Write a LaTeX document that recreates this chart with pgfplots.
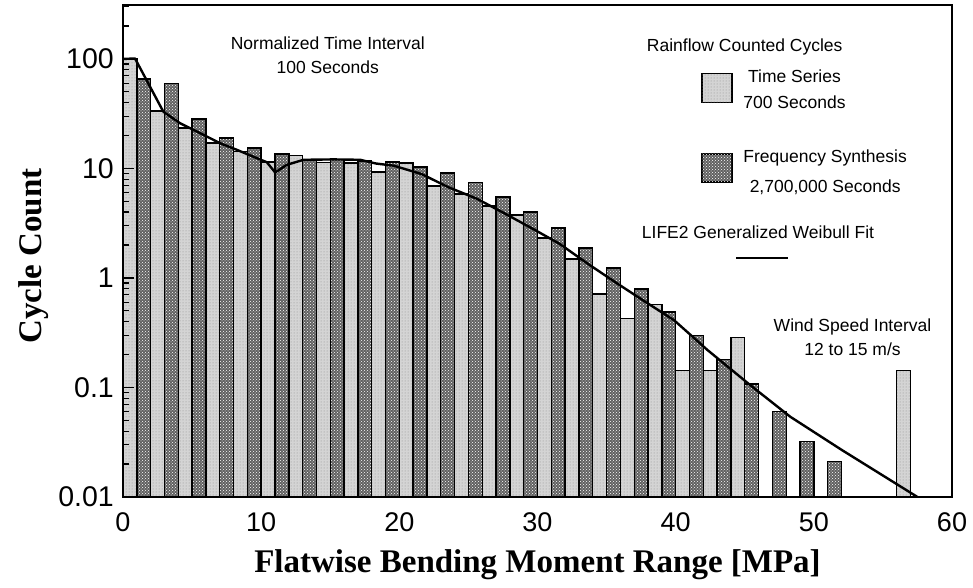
\documentclass[border=0pt]{standalone}
\usepackage{fontspec}
\setmainfont{Liberation Sans}
\newfontfamily\timesfont{Liberation Serif}
\usepackage{pgfplots}
\pgfplotsset{compat=1.18}
\usetikzlibrary{patterns}

\pgfplotstableread{
x y
0.5 100
2.5 33.5
4.5 23.4
6.5 17.1
8.5 14.2
10.5 11.5
12.5 13.1
14.5 11.3
16.5 11.2
18.5 9.3
20.5 11.2
22.5 6.9
24.5 5.85
26.5 4.55
28.5 3.76
30.5 2.32
32.5 1.49
34.5 0.714
36.5 0.429
38.5 0.571
40.5 0.143
42.5 0.143
44.5 0.286
56.5 0.143
}\timeseries

\pgfplotstableread{
x y
1.5 65.6
3.5 60
5.5 28.3
7.5 19.0
9.5 15.4
11.5 13.5
13.5 12.1
15.5 12.0
17.5 11.7
19.5 11.5
21.5 10.3
23.5 9.1
25.5 7.4
27.5 5.5
29.5 4.0
31.5 2.86
33.5 1.88
35.5 1.23
37.5 0.79
39.5 0.49
41.5 0.30
43.5 0.18
45.5 0.108
47.5 0.060
49.5 0.032
51.5 0.021
}\freqsynth

\pgfplotstableread{
x y
0 100
0.87 101
2.92 33
4.13 25.9
5.58 21
7.03 17
8.24 14.8
9.44 12.8
10.41 11.4
11.01 9.2
11.86 10.8
13.07 12.0
15.24 12.1
17.17 12.0
18.3 11.1
19.6 10.6
21.6 8.9
23.6 6.7
25.6 5.3
27.6 3.9
29.6 2.84
31.6 2.05
33.6 1.36
35.6 0.92
37.6 0.63
39.9 0.41
42.3 0.22
45.4 0.105
48.3 0.054
52.0 0.027
57.5 0.01
}\weibull

\tikzset{
  lightbar/.style={draw=black, line width=1.4pt, fill=black!17, postaction={pattern=dots, pattern color=black!45}},
  darkbar/.style={draw=black, line width=1.4pt, fill=black!62, postaction={pattern=crosshatch dots, pattern color=white}},
}

\begin{document}
\begin{tikzpicture}
\useasboundingbox (-123pt,-91pt) rectangle (850pt,497pt);
\begin{axis}[
  scale only axis, width=829pt, height=492pt,
  at={(0,0)}, anchor=south west,
  xmin=0, xmax=60, ymin=0.01, ymax=311,
  ymode=log, log origin=infty,
  axis on top,
  axis line style={line width=2.6pt},
  xtick={0,10,20,30,40,50,60},
  xticklabels={0,10,20,30,40,50,60},
  xtick style={draw=none},
  ytick={0.01,0.1,1,10,100},
  yticklabels={0.01,0.1,1,10,100},
  minor ytick={0.02,0.03,0.04,0.05,0.06,0.07,0.08,0.09,0.2,0.3,0.4,0.5,0.6,0.7,0.8,0.9,2,3,4,5,6,7,8,9,20,30,40,50,60,70,80,90,200,300},
  ytick pos=left, tick align=inside,
  major tick length=11pt, minor tick length=6pt,
  ytick style={line width=1.3pt, black},
  minor y tick style={line width=1.1pt},
  /pgf/number format/assume math mode=true,
  yticklabel style={font=\fontsize{28.5}{32}\selectfont, inner sep=0pt, xshift=-9pt},
  xticklabel style={font=\fontsize{27}{32}\selectfont, inner sep=0pt, yshift=-15pt},
  xlabel={\fontsize{33}{38}\selectfont\timesfont\bfseries Flatwise Bending Moment Range [MPa]},
  ylabel={\fontsize{33}{38}\selectfont\timesfont\bfseries Cycle Count},
  every axis x label/.style={at={(axis description cs:0.5,-0.138)}, anchor=center},
  every axis y label/.style={at={(axis description cs:-0.108,0.49)}, anchor=center, rotate=90},
  clip=true,
]
\addplot[ybar, bar width=1, bar shift=0, lightbar] table[x=x,y=y] {\timeseries};
\addplot[ybar, bar width=1, bar shift=0, darkbar] table[x=x,y=y] {\freqsynth};
\addplot[black, line width=2.4pt, sharp plot, line join=round] table[x=x,y=y] {\weibull};

\node[align=center, font=\fontsize{17.5}{24}\selectfont] at (axis description cs:0.247,0.898) {Normalized Time Interval\\100 Seconds};
\node[font=\fontsize{17.5}{24}\selectfont] at (axis description cs:0.750,0.915) {Rainflow Counted Cycles};
\node[lightbar, minimum width=30pt, minimum height=29pt, inner sep=0pt] at (axis description cs:0.7165,0.831) {};
\node[align=center, font=\fontsize{17.5}{26}\selectfont] at (axis description cs:0.810,0.8285) {Time Series\\700 Seconds};
\node[darkbar, minimum width=30pt, minimum height=28pt, inner sep=0pt] at (axis description cs:0.7165,0.669) {};
\node[align=center, font=\fontsize{17.5}{30}\selectfont] at (axis description cs:0.847,0.6606) {Frequency Synthesis\\2,700,000 Seconds};
\node[font=\fontsize{17.5}{24}\selectfont] at (axis description cs:0.766,0.5386) {LIFE2 Generalized Weibull Fit};
\draw[black, line width=2.6pt] (axis description cs:0.740,0.486) -- (axis description cs:0.802,0.486);
\node[align=center, font=\fontsize{17.5}{24}\selectfont] at (axis description cs:0.880,0.3252) {Wind Speed Interval\\12 to 15 m/s};
\end{axis}
\end{tikzpicture}
\end{document}
